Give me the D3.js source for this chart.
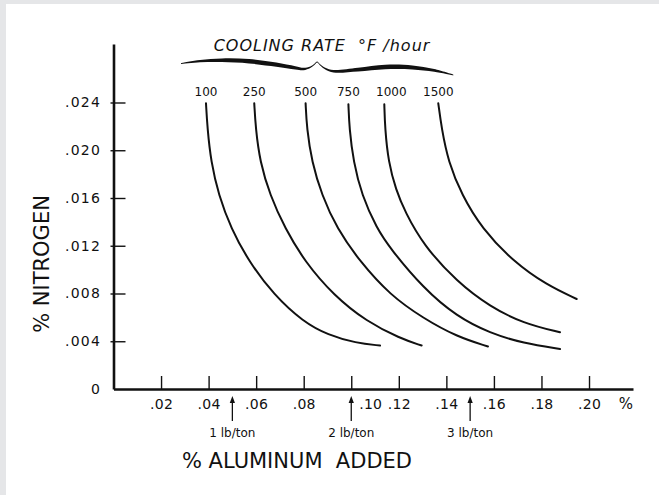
<!DOCTYPE html>
<html>
<head>
<meta charset="utf-8">
<script src="https://cdn.jsdelivr.net/npm/d3@7"></script>
<style>
  body { margin: 0; background: #e5e6e8; }
  svg { display: block; }
  text { font-family: "DejaVu Sans", sans-serif; fill: #111; }
</style>
</head>
<body>
<div id="container"></div>
<script>
// cooling rate of each curve, °F/hour
const coolingRates = [100, 250, 500, 750, 1000, 1500]

// % aluminum added (x) and % nitrogen (y)
const alCurves = [
  [.0389, .0395, .0410, .0442, .0494, .0570, .0675, .0797, .0902, .1020, .1121],
  [.0592, .0598, .0616, .0658, .0721, .0805, .0925, .1065, .1205, .1296],
  [.0808, .0813, .0834, .0876, .0939, .1037, .1163, .1303, .1444, .1575],
  [.0988, .0992, .1009, .1044, .1107, .1163, .1303, .1444, .1584, .1724, .1878],
  [.1139, .1142, .1156, .1188, .1226, .1303, .1444, .1584, .1724, .1878],
  [.1366, .1380, .1408, .1465, .1549, .1682, .1822, .1948]
]
const nCurves = [
  [.02393, .02184, .01904, .01625, .01346, .01066, .00787, .00564, .00452, .00385, .00364],
  [.02393, .02184, .01904, .01625, .01346, .01066, .00787, .00564, .00425, .00364],
  [.02393, .02184, .01904, .01625, .01346, .01066, .00787, .00592, .00438, .00356],
  [.02385, .02184, .01904, .01625, .01346, .01179, .00844, .00606, .00467, .00383, .00335],
  [.02385, .02184, .01904, .01667, .01485, .01206, .00899, .00689, .00550, .00475],
  [.02393, .02184, .01904, .01625, .01346, .01066, .00871, .00754]
]

const xTicks = [.02, .04, .06, .08, .10, .12, .14, .16, .18, .20]
const xTickLabels = [".02", ".04", ".06", ".08", ".10", ".12", ".14", ".16", ".18", ".20"]
const yTicks = [0, .004, .008, .012, .016, .020, .024]
const yTickLabels = ["0", ".004", ".008", ".012", ".016", ".020", ".024"]

// aluminum additions marked under the x axis
const lbLabels = ["1 lb/ton", "2 lb/ton", "3 lb/ton"]
const lbAluminum = [.05, .10, .15]

const W = 659, H = 495

const svg = d3.select("#container").append("svg")
  .attr("width", W)
  .attr("height", H)

svg.append("rect")
  .attr("x", 6).attr("y", 4)
  .attr("width", W - 6).attr("height", H - 4)
  .attr("fill", "#fff")

const x = d3.scaleLinear().domain([0, .2185]).range([113.5, 633])
const y = d3.scaleLinear().domain([0, .0289]).range([389, 44])

// x axis
const xAxis = svg.append("g")
  .attr("transform", `translate(0,${y(0)})`)
  .call(d3.axisBottom(x)
    .tickValues(xTicks)
    .tickFormat((d, i) => xTickLabels[i])
    .tickSizeInner(-13)
    .tickSizeOuter(0)
    .tickPadding(10))
xAxis.select(".domain").attr("stroke", "#111").attr("stroke-width", 2.4)
xAxis.selectAll(".tick line").attr("stroke", "#111").attr("stroke-width", 1.4)
xAxis.selectAll(".tick text")
  .attr("font-size", 14)
  .attr("letter-spacing", 0.3)
  .attr("fill", "#111")
  .attr("dx", d => d === .10 ? 19 : 0)
xAxis.attr("font-family", null)

svg.append("text")
  .attr("x", 626)
  .attr("y", y(0) + 20)
  .attr("text-anchor", "middle")
  .attr("font-size", 15)
  .text("%")

// y axis
const yAxis = svg.append("g")
  .attr("transform", `translate(${x(0)},0)`)
  .call(d3.axisLeft(y)
    .tickValues(yTicks)
    .tickFormat((d, i) => yTickLabels[i])
    .tickSizeInner(-12)
    .tickSizeOuter(0)
    .tickPadding(12.5))
yAxis.select(".domain").attr("stroke", "#111").attr("stroke-width", 2.6)
yAxis.selectAll(".tick line")
  .attr("x1", -3)
  .attr("stroke", "#111").attr("stroke-width", 1.4)
  .attr("display", d => d === 0 ? "none" : null)
yAxis.selectAll(".tick text")
  .attr("font-size", 14)
  .attr("letter-spacing", 1.2)
  .attr("fill", "#111")
yAxis.attr("font-family", null)

// axis titles
svg.append("text")
  .attr("transform", "translate(42,264) rotate(-90)")
  .attr("text-anchor", "middle")
  .attr("dy", "0.35em")
  .attr("font-size", 21)
  .text("% NITROGEN")

svg.append("text")
  .attr("x", 297)
  .attr("y", 468)
  .attr("text-anchor", "middle")
  .attr("font-size", 21)
  .style("white-space", "pre")
  .text("% ALUMINUM  ADDED")

// lb/ton arrows
const arrows = svg.append("g")
lbAluminum.forEach((v, i) => {
  const ax = x(v), base = y(0)
  arrows.append("line")
    .attr("x1", ax).attr("x2", ax)
    .attr("y1", base + 32).attr("y2", base + 12)
    .attr("stroke", "#111").attr("stroke-width", 1.3)
  arrows.append("path")
    .attr("d", `M${ax - 2.6},${base + 14}L${ax},${base + 7}L${ax + 2.6},${base + 14}Z`)
    .attr("fill", "#111")
  arrows.append("text")
    .attr("x", ax)
    .attr("y", base + 48)
    .attr("text-anchor", "middle")
    .attr("font-size", 12)
    .style("white-space", "pre")
    .text(lbLabels[i])
})

// cooling rate curves
const line = d3.line()
  .x(d => x(d[0]))
  .y(d => y(d[1]))
  .curve(d3.curveBasis)

coolingRates.forEach((rate, i) => {
  const pts = alCurves[i].map((a, j) => [a, nCurves[i][j]])
  svg.append("path")
    .attr("d", line(pts))
    .attr("fill", "none")
    .attr("stroke", "#111")
    .attr("stroke-width", 2)
    .attr("stroke-linecap", "round")

  svg.append("text")
    .attr("x", x(alCurves[i][0]) + (rate === 1000 ? 7 : 0))
    .attr("y", 95.5)
    .attr("text-anchor", "middle")
    .attr("font-size", 12)
    .text(rate)
})

// brace over the rate labels
const bx0 = x(alCurves[0][0]) - 25
const bx1 = x(alCurves[alCurves.length - 1][0]) + 15
const brace = [
  [0, 63.6, .4], [.07, 61.2, 1.1], [.15, 60.2, 1.8], [.25, 61.2, 2.2], [.35, 64.6, 2.1],
  [.42, 67.8, 1.6], [.45, 69, 1.2], [.475, 67.2, .8], [.49, 64.4, .6], [.5, 62, .5],
  [.51, 64.6, .6], [.53, 68.6, .8], [.56, 71.2, 1.2], [.65, 69.6, 1.8], [.75, 67, 2.2],
  [.85, 67.4, 2], [.93, 70.4, 1.3], [1, 75, .4]
]
svg.append("path")
  .attr("d", d3.area()
    .x(d => bx0 + d[0] * (bx1 - bx0))
    .y0(d => d[1] - d[2])
    .y1(d => d[1] + d[2])
    .curve(d3.curveCatmullRom)(brace))
  .attr("fill", "#111")

svg.append("text")
  .attr("x", 322)
  .attr("y", 50.5)
  .attr("text-anchor", "middle")
  .attr("font-size", 16)
  .attr("font-style", "oblique")
  .attr("letter-spacing", 1)
  .style("white-space", "pre")
  .text("COOLING RATE  °F /hour")
</script>
</body>
</html>
